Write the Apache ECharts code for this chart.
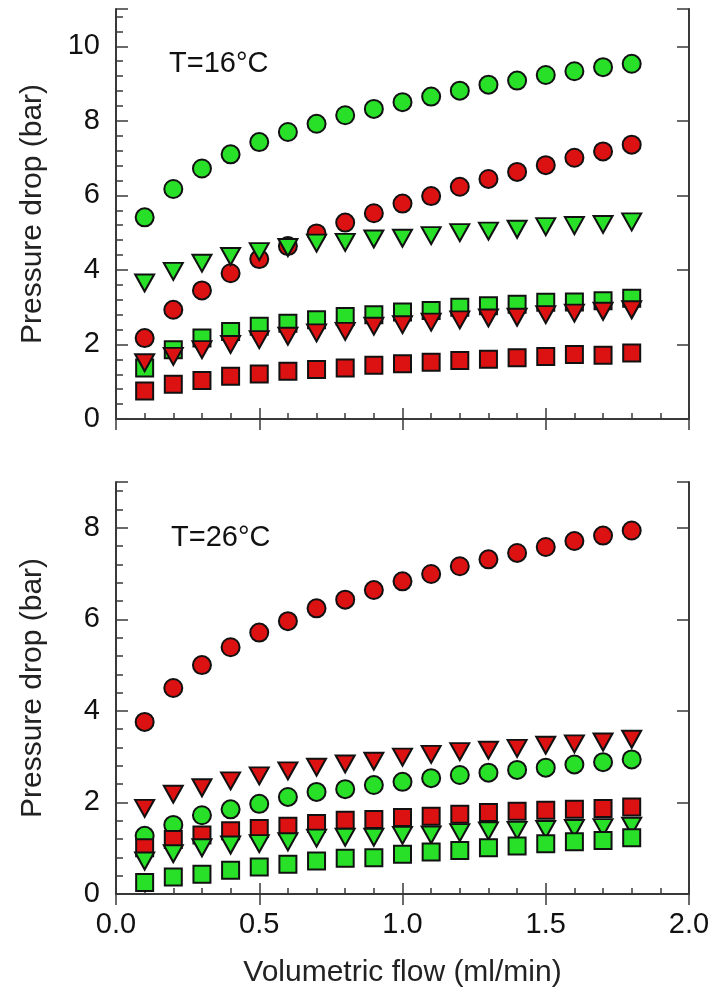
<!DOCTYPE html>
<html>
<head>
<meta charset="utf-8">
<script src="https://cdn.jsdelivr.net/npm/echarts@6/dist/echarts.min.js"></script>
<style>
  html, body { margin: 0; padding: 0; background: #fff; }
  #chart { width: 713px; height: 1000px; }
</style>
</head>
<body>
<div id="chart"></div>
<script>
// flow values (ml/min), shared by every series
var flow = [0.1, 0.2, 0.3, 0.4, 0.5, 0.6, 0.7, 0.8, 0.9, 1.0, 1.1, 1.2, 1.3, 1.4, 1.5, 1.6, 1.7, 1.8];
var xTickLabels = ['0.0', '0.5', '1.0', '1.5', '2.0'];

// T = 16 °C
var t16GreenCircle = [5.41, 6.17, 6.72, 7.10, 7.43, 7.70, 7.92, 8.15, 8.32, 8.50, 8.65, 8.81, 8.97, 9.08, 9.23, 9.33, 9.44, 9.53];
var t16RedCircle = [2.17, 2.93, 3.45, 3.91, 4.29, 4.64, 4.98, 5.27, 5.52, 5.78, 5.98, 6.23, 6.44, 6.63, 6.81, 7.01, 7.18, 7.36];
var t16GreenTriangle = [3.65, 3.96, 4.18, 4.36, 4.49, 4.60, 4.72, 4.74, 4.83, 4.85, 4.92, 5.00, 5.04, 5.09, 5.16, 5.19, 5.22, 5.29];
var t16GreenSquare = [1.37, 1.86, 2.17, 2.35, 2.49, 2.57, 2.66, 2.75, 2.80, 2.87, 2.91, 3.00, 3.04, 3.08, 3.13, 3.14, 3.17, 3.24];
var t16RedTriangle = [1.51, 1.68, 1.86, 2.00, 2.13, 2.22, 2.31, 2.35, 2.49, 2.53, 2.60, 2.66, 2.71, 2.73, 2.80, 2.84, 2.89, 2.93];
var t16RedSquare = [0.75, 0.93, 1.03, 1.15, 1.21, 1.28, 1.33, 1.37, 1.44, 1.48, 1.52, 1.57, 1.60, 1.64, 1.68, 1.73, 1.71, 1.77];

// T = 26 °C
var t26RedCircle = [3.76, 4.50, 5.00, 5.39, 5.71, 5.96, 6.24, 6.43, 6.64, 6.83, 6.99, 7.16, 7.31, 7.45, 7.58, 7.71, 7.83, 7.94];
var t26RedTriangle = [1.87, 2.18, 2.32, 2.47, 2.58, 2.69, 2.77, 2.84, 2.90, 2.99, 3.05, 3.11, 3.14, 3.18, 3.25, 3.28, 3.32, 3.38];
var t26GreenCircle = [1.27, 1.51, 1.72, 1.85, 1.97, 2.12, 2.23, 2.29, 2.38, 2.45, 2.53, 2.60, 2.65, 2.71, 2.76, 2.83, 2.88, 2.94];
var t26RedSquare = [1.01, 1.19, 1.29, 1.38, 1.43, 1.48, 1.54, 1.61, 1.63, 1.67, 1.70, 1.74, 1.78, 1.81, 1.83, 1.85, 1.87, 1.90];
var t26GreenTriangle = [0.72, 0.88, 1.01, 1.07, 1.10, 1.14, 1.22, 1.24, 1.24, 1.28, 1.29, 1.34, 1.38, 1.39, 1.41, 1.43, 1.45, 1.48];
var t26GreenSquare = [0.25, 0.37, 0.43, 0.52, 0.59, 0.65, 0.72, 0.78, 0.79, 0.87, 0.92, 0.95, 1.01, 1.05, 1.10, 1.14, 1.17, 1.23];

var GREEN = '#28e028';
var RED = '#dc1212';
var FONT = 'Liberation Sans, Arial, sans-serif';
var AXIS_COLOR = '#3a3a3a';

var myChart = echarts.init(document.getElementById('chart'));

function pairs(ys) {
    return flow.map(function (x, i) { return [x, ys[i]]; });
}

function makeSeries(name, ys, shape, color, gridIdx) {
    var isTri = shape === 'triangle';
    return {
        name: name,
        type: 'scatter',
        xAxisIndex: gridIdx * 2,
        yAxisIndex: gridIdx * 3,
        data: pairs(ys),
        symbol: shape,
        symbolSize: isTri ? [19, 17] : (shape === 'rect' ? 17 : 18),
        symbolRotate: isTri ? 180 : 0,
        itemStyle: { color: color, borderColor: '#111', borderWidth: 2, opacity: 1 },
        emphasis: { disabled: true },
        silent: true
    };
}

function bottomX(gridIdx, withLabels) {
    return {
        type: 'value', gridIndex: gridIdx, position: 'bottom',
        min: 0, max: 2, interval: 0.5,
        axisLine: { show: true, lineStyle: { color: AXIS_COLOR, width: 2 } },
        axisTick: { show: true, inside: true, length: 11, lineStyle: { color: AXIS_COLOR, width: 1.5 } },
        minorTick: { show: true, splitNumber: 5, length: 6, lineStyle: { color: AXIS_COLOR, width: 1.5 } },
        splitLine: { show: false },
        axisLabel: {
            show: withLabels, margin: 16, fontSize: 29, color: '#111', fontFamily: FONT,
            formatter: function (v) { return xTickLabels[Math.round(v / 0.5)]; }
        },
        name: withLabels ? 'Volumetric flow (ml/min)' : '',
        nameLocation: 'middle', nameGap: 64,
        nameTextStyle: { fontSize: 30, color: '#222', fontFamily: FONT }
    };
}

function topX(gridIdx) {
    return {
        type: 'value', gridIndex: gridIdx, position: 'top',
        min: 0, max: 2, interval: 0.5,
        axisLine: { show: true, lineStyle: { color: AXIS_COLOR, width: 2 } },
        axisTick: { show: true, inside: true, length: 11, lineStyle: { color: AXIS_COLOR, width: 1.5 } },
        axisLabel: { show: false },
        splitLine: { show: false }
    };
}

// left axis: short ticks every 0.4, labels at multiples of 2
function leftY(gridIdx, max) {
    return {
        type: 'value', gridIndex: gridIdx, position: 'left',
        min: 0, max: max, interval: 0.4,
        axisLine: { show: true, lineStyle: { color: AXIS_COLOR, width: 2 } },
        axisTick: { show: true, inside: true, length: 7, lineStyle: { color: AXIS_COLOR, width: 1.5 } },
        splitLine: { show: false },
        axisLabel: {
            margin: 16, fontSize: 29, color: '#111', fontFamily: FONT,
            formatter: function (v) {
                var k = v / 2;
                return Math.abs(k - Math.round(k)) < 1e-6 ? String(Math.round(v)) : '';
            }
        },
        name: 'Pressure drop (bar)',
        nameLocation: 'middle', nameGap: 68, nameRotate: 90,
        nameTextStyle: { fontSize: 30, color: '#222', fontFamily: FONT }
    };
}

// long ticks every 2 on the left, no labels
function leftYMajor(gridIdx, max) {
    return {
        type: 'value', gridIndex: gridIdx, position: 'left',
        min: 0, max: max, interval: 2,
        axisLine: { show: false },
        axisTick: { show: true, inside: true, length: 12, lineStyle: { color: AXIS_COLOR, width: 1.5 } },
        axisLabel: { show: false },
        splitLine: { show: false }
    };
}

function rightY(gridIdx, max) {
    return {
        type: 'value', gridIndex: gridIdx, position: 'right',
        min: 0, max: max, interval: 2,
        axisLine: { show: true, lineStyle: { color: AXIS_COLOR, width: 2 } },
        axisTick: { show: true, inside: true, length: 12, lineStyle: { color: AXIS_COLOR, width: 1.5 } },
        axisLabel: { show: false },
        splitLine: { show: false }
    };
}

var option = {
    animation: false,
    backgroundColor: '#fff',
    title: [
        { text: 'T=16°C', left: 164, top: 44, textStyle: { fontSize: 29, fontWeight: 'normal', color: '#111', fontFamily: FONT } },
        { text: 'T=26°C', left: 166, top: 518, textStyle: { fontSize: 29, fontWeight: 'normal', color: '#111', fontFamily: FONT } }
    ],
    grid: [
        { left: 116, top: 9, width: 573, height: 410 },
        { left: 116, top: 482, width: 573, height: 412 }
    ],
    xAxis: [
        bottomX(0, false), topX(0),
        bottomX(1, true), topX(1)
    ],
    yAxis: [
        leftY(0, 11), leftYMajor(0, 11), rightY(0, 11),
        leftY(1, 9), leftYMajor(1, 9), rightY(1, 9)
    ],
    series: [
        makeSeries('16 green square', t16GreenSquare, 'rect', GREEN, 0),
        makeSeries('16 red square', t16RedSquare, 'rect', RED, 0),
        makeSeries('16 red triangle', t16RedTriangle, 'triangle', RED, 0),
        makeSeries('16 red circle', t16RedCircle, 'circle', RED, 0),
        makeSeries('16 green triangle', t16GreenTriangle, 'triangle', GREEN, 0),
        makeSeries('16 green circle', t16GreenCircle, 'circle', GREEN, 0),

        makeSeries('26 green circle', t26GreenCircle, 'circle', GREEN, 1),
        makeSeries('26 red square', t26RedSquare, 'rect', RED, 1),
        makeSeries('26 green triangle', t26GreenTriangle, 'triangle', GREEN, 1),
        makeSeries('26 green square', t26GreenSquare, 'rect', GREEN, 1),
        makeSeries('26 red triangle', t26RedTriangle, 'triangle', RED, 1),
        makeSeries('26 red circle', t26RedCircle, 'circle', RED, 1)
    ]
};

myChart.setOption(option);
</script>
</body>
</html>
